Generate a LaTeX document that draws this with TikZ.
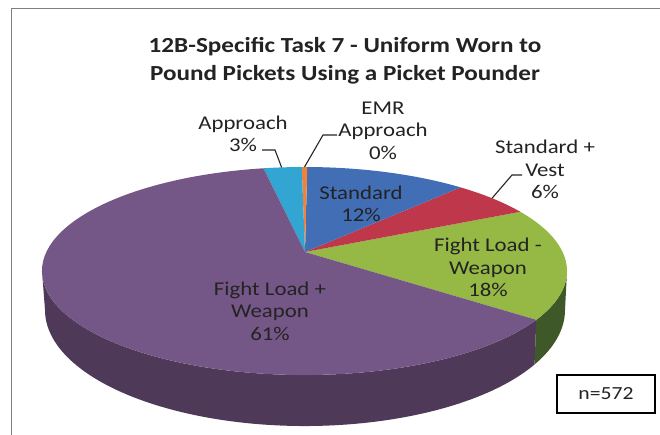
\documentclass[tikz,border=0pt]{standalone}
\usepackage{fontspec}
\setmainfont[FakeStretch=1.17]{Carlito}
\usetikzlibrary{calc}
\definecolor{stdblue}{RGB}{65,110,180}
\definecolor{vestred}{RGB}{190,55,75}
\definecolor{flgreen}{RGB}{150,185,70}
\definecolor{flgreenside}{RGB}{62,88,42}
\definecolor{flpurple}{RGB}{117,87,135}
\definecolor{flpurpleside}{RGB}{78,58,88}
\definecolor{appcyan}{RGB}{50,165,210}
\definecolor{emrorange}{RGB}{240,130,60}
\definecolor{txtgray}{RGB}{35,35,35}
\tikzset{
  lbl/.style={align=center,text=txtgray,font=\fontsize{19.5}{22.5}\selectfont,inner sep=0pt},
  leader/.style={black!85,line width=1.1pt},
}
\begin{document}
\begin{tikzpicture}[x=1pt,y=1pt]
\useasboundingbox (0,0) rectangle (660,434);
\clip (0,0) rectangle (660,434);
\fill[white] (0,0) rectangle (660,434);
\draw[gray,line width=0.8pt] (11,-10) rectangle (670,426);
% pie geometry
\coordinate (C) at (304.5,163);   % top face
\coordinate (B) at (305,124);     % bottom face
\coordinate (V) at (305,182);     % pie centre
\def\ra{262.5}\def\rb{104}
\def\sa{260}\def\sb{116}
% sides
\fill[flpurpleside] ($(C)+(180:\ra pt and \rb pt)$) arc[start angle=180,end angle=332,x radius=\ra,y radius=\rb]
  -- ($(B)+(332:\sa pt and \sb pt)$) arc[start angle=332,end angle=180,x radius=\sa,y radius=\sb] -- cycle;
\fill[flgreenside] ($(C)+(332:\ra pt and \rb pt)$) arc[start angle=332,end angle=360,x radius=\ra,y radius=\rb]
  -- ($(B)+(0:\sa pt and \sb pt)$) arc[start angle=360,end angle=332,x radius=\sa,y radius=\sb] -- cycle;
% top slices
\foreach \from/\to/\col in {-28/34.7/flgreen, 34.7/53.5/vestred, 53.5/89.4/stdblue,
    89.4/90.6/emrorange, 90.6/99/appcyan, 99/332/flpurple}
{
    \fill[\col] (V) -- ($(C)+(\from:\ra pt and \rb pt)$)
      arc[start angle=\from,end angle=\to,x radius=\ra,y radius=\rb] -- cycle;
}
% title
\node[align=center,text=txtgray,font=\bfseries\fontsize{21.5}{28}\selectfont] (title) at (345,373)
  {12B-Specific Task 7 - Uniform Worn to\\Pound Pickets Using a Picket Pounder};
% labels
\node[lbl] (lblApp) at (243,300) {Approach\\3\%};
\node[lbl] (lblEMR) at (383,303.5) {EMR\\Approach\\0\%};
\node[lbl] (lblStd) at (361,230) {Standard\\12\%};
\node[lbl] (lblVest) at (545,264.5) {Standard +\\Vest\\6\%};
\node[lbl] (lblFLm) at (488,166.5) {Fight Load -\\Weapon\\18\%};
\node[lbl] (lblFLp) at (270,123) {Fight Load +\\Weapon\\61\%};
% leaders
\coordinate (appA) at (262,284);
\coordinate (appB) at ($(C)+(95:\ra pt and \rb pt)$);
\coordinate (emrA) at (337,299);
\coordinate (emrB) at ($(C)+(90:\ra pt and \rb pt)$);
\coordinate (vestA) at (522,259);
\coordinate (vestB) at ($(C)+(44.4:\ra pt and \rb pt)$);
\draw[leader] (appA) -- ++(13,0) -- (appB);
\draw[leader] (emrA) -- ++(-14,0) -- (emrB);
\draw[leader] (vestA) -- ++(-10,0) -- (vestB);
% sample size
\node[draw=black,line width=1.3pt,minimum width=98pt,minimum height=38pt,
  font=\fontsize{18.5}{22}\selectfont,text=txtgray] (nbox) at (606,40) {n=572};
\end{tikzpicture}
\end{document}
